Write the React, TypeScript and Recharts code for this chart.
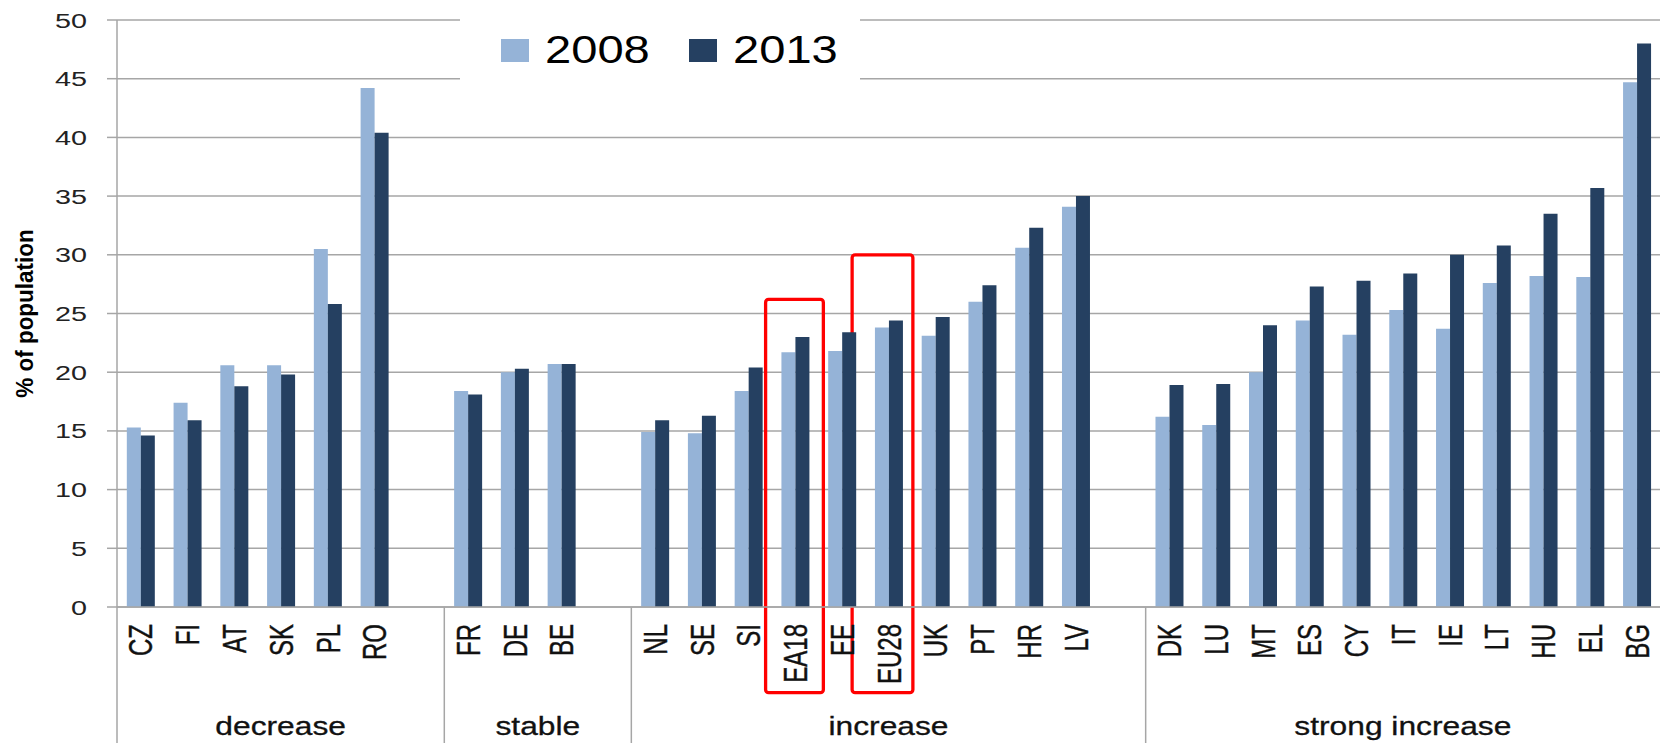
import React from 'react';
import {
  BarChart,
  Bar,
  XAxis,
  YAxis,
  CartesianGrid,
  Legend,
  ReferenceArea,
} from 'recharts';

// categories, with empty slots ("gap-n") between the groups
const categories = [
  'CZ', 'FI', 'AT', 'SK', 'PL', 'RO', 'gap-1',
  'FR', 'DE', 'BE', 'gap-2',
  'NL', 'SE', 'SI', 'EA18', 'EE', 'EU28', 'UK', 'PT', 'HR', 'LV', 'gap-3',
  'DK', 'LU', 'MT', 'ES', 'CY', 'IT', 'IE', 'LT', 'HU', 'EL', 'BG',
];

const values2008 = [
  15.3, 17.4, 20.6, 20.6, 30.5, 44.2, null,
  18.4, 20.0, 20.7, null,
  14.9, 14.8, 18.4, 21.7, 21.8, 23.8, 23.1, 26.0, 30.6, 34.1, null,
  16.2, 15.5, 20.0, 24.4, 23.2, 25.3, 23.7, 27.6, 28.2, 28.1, 44.7,
];

const values2013 = [
  14.6, 15.9, 18.8, 19.8, 25.8, 40.4, null,
  18.1, 20.3, 20.7, null,
  15.9, 16.3, 20.4, 23.0, 23.4, 24.4, 24.7, 27.4, 32.3, 35.0, null,
  18.9, 19.0, 24.0, 27.3, 27.8, 28.4, 30.0, 30.8, 33.5, 35.7, 48.0,
];

const groupLabels = ['decrease', 'stable', 'increase', 'strong increase'];
const groupSizes = [7, 4, 11, 11];

const yTicks = [0, 5, 10, 15, 20, 25, 30, 35, 40, 45, 50];

// highlighted categories (top / bottom in % units)
const highlightCategories = ['EA18', 'EU28'];
const highlightTops = [26.2, 30.0];
const highlightBottom = -7.3;

const data = categories.map((name, i) => ({
  name,
  v2008: values2008[i],
  v2013: values2013[i],
}));

const groupStarts = groupSizes.map((_s, i) =>
  groupSizes.slice(0, i).reduce((a, b) => a + b, 0)
);

const CHART_W = 1660;
const CHART_H = 743;
const Y_AXIS_W = 117;
const BAND = (CHART_W - Y_AXIS_W) / categories.length;
const FONT = '"Liberation Sans", Arial, sans-serif';
const GRID = '#a6a6a6';
const LIGHT = '#95b3d7';
const DARK = '#254061';
// red frames are drawn a little off the band (left, right padding in px)
const BOX_PAD = [
  [6, 5],
  [13, 1],
];

const CategoryTick = (props: any) => {
  const { x, y, payload, index } = props;
  const name = String(payload.value);
  const groupIdx = groupStarts.indexOf(index);
  const left = x - BAND / 2;
  return (
    <g>
      {!name.startsWith('gap') && (
        <text
          transform={`translate(${x},${y + 17}) rotate(-90) scale(1,1.4)`}
          textAnchor="end"
          dy="0.36em"
          fontSize={24}
          fontFamily={FONT}
          fill="#111"
          stroke="#111"
          strokeWidth={0.3}
        >
          {name}
        </text>
      )}
      {groupIdx >= 0 && (
        <g>
          <line x1={left} x2={left} y1={y} y2={CHART_H} stroke={GRID} strokeWidth={1.5} />
          <text
            transform={`translate(${left + (groupSizes[groupIdx] * BAND) / 2},${CHART_H - 8}) scale(1.27,1)`}
            textAnchor="middle"
            fontSize={25}
            fontFamily={FONT}
            fill="#111"
            stroke="#111"
            strokeWidth={0.3}
          >
            {groupLabels[groupIdx]}
          </text>
        </g>
      )}
    </g>
  );
};

const ValueTick = (props: any) => {
  const { x, y, payload } = props;
  return (
    <text
      transform={`translate(${x},${y}) scale(1.37,1)`}
      textAnchor="end"
      dy="0.36em"
      fontSize={21}
      fontFamily={FONT}
      fill="#222"
    >
      {payload.value}
    </text>
  );
};

const YTitle = (props: any) => {
  const vb = props.viewBox || { y: 20, height: 587 };
  return (
    <text
      transform={`translate(24,${vb.y + vb.height / 2}) rotate(-90) scale(1,1.1)`}
      textAnchor="middle"
      dy="0.36em"
      fontSize={22.5}
      fontWeight="bold"
      fontFamily={FONT}
      fill="#000"
    >
      % of population
    </text>
  );
};

const LegendContent = (props: any) => {
  const items = props.payload || [];
  return (
    <svg width={400} height={100}>
      {items.map((item: any, i: number) => (
        <g key={item.value} transform={`translate(${41 + i * 188},0)`}>
          <rect x={0} y={39} width={28} height={23} fill={item.color} />
          <text
            transform="translate(44,63) scale(1.24,1)"
            fontSize={38}
            fontFamily={FONT}
            fill="#000"
          >
            {item.value}
          </text>
        </g>
      ))}
    </svg>
  );
};

const makeRedBox = (pad: number[]) => (props: any) => {
  const { x, y, width, height } = props;
  return (
    <rect
      x={x - pad[0]}
      y={y}
      width={width + pad[0] + pad[1]}
      height={height}
      rx={3}
      fill="none"
      stroke="#ff0000"
      strokeWidth={3.3}
    />
  );
};

export default function App() {
  return (
    <div style={{ position: 'absolute', left: 0, top: 0, background: '#fff' }}>
      <BarChart
        width={CHART_W}
        height={CHART_H}
        data={data}
        margin={{ top: 20, right: 0, bottom: 0, left: 0 }}
        barGap={0}
        barCategoryGap="21%"
      >
        <CartesianGrid vertical={false} stroke={GRID} strokeWidth={1.5} />
        <XAxis
          dataKey="name"
          height={CHART_H - 607}
          interval={0}
          tickLine={false}
          tickSize={0}
          tickMargin={0}
          axisLine={{ stroke: GRID, strokeWidth: 1.5 }}
          tick={<CategoryTick />}
        />
        <YAxis
          width={Y_AXIS_W}
          domain={[0, 50]}
          ticks={yTicks}
          interval={0}
          tickSize={10}
          tickMargin={20}
          tickLine={{ stroke: GRID, strokeWidth: 1.5 }}
          axisLine={{ stroke: GRID, strokeWidth: 1.5 }}
          tick={<ValueTick />}
          label={<YTitle />}
        />
        <Legend
          layout="horizontal"
          verticalAlign="middle"
          align="center"
          width={400}
          height={100}
          wrapperStyle={{ position: 'absolute', left: 460, top: 0, width: 400, height: 100, backgroundColor: '#fff' }}
          content={<LegendContent />}
        />
        <Bar dataKey="v2008" name="2008" fill={LIGHT} isAnimationActive={false} />
        <Bar dataKey="v2013" name="2013" fill={DARK} isAnimationActive={false} />
        {highlightCategories.map((cat, i) => (
          <ReferenceArea
            key={cat}
            x1={cat}
            x2={cat}
            y1={highlightBottom}
            y2={highlightTops[i]}
            ifOverflow="visible"
            shape={makeRedBox(BOX_PAD[i])}
          />
        ))}
      </BarChart>
    </div>
  );
}
